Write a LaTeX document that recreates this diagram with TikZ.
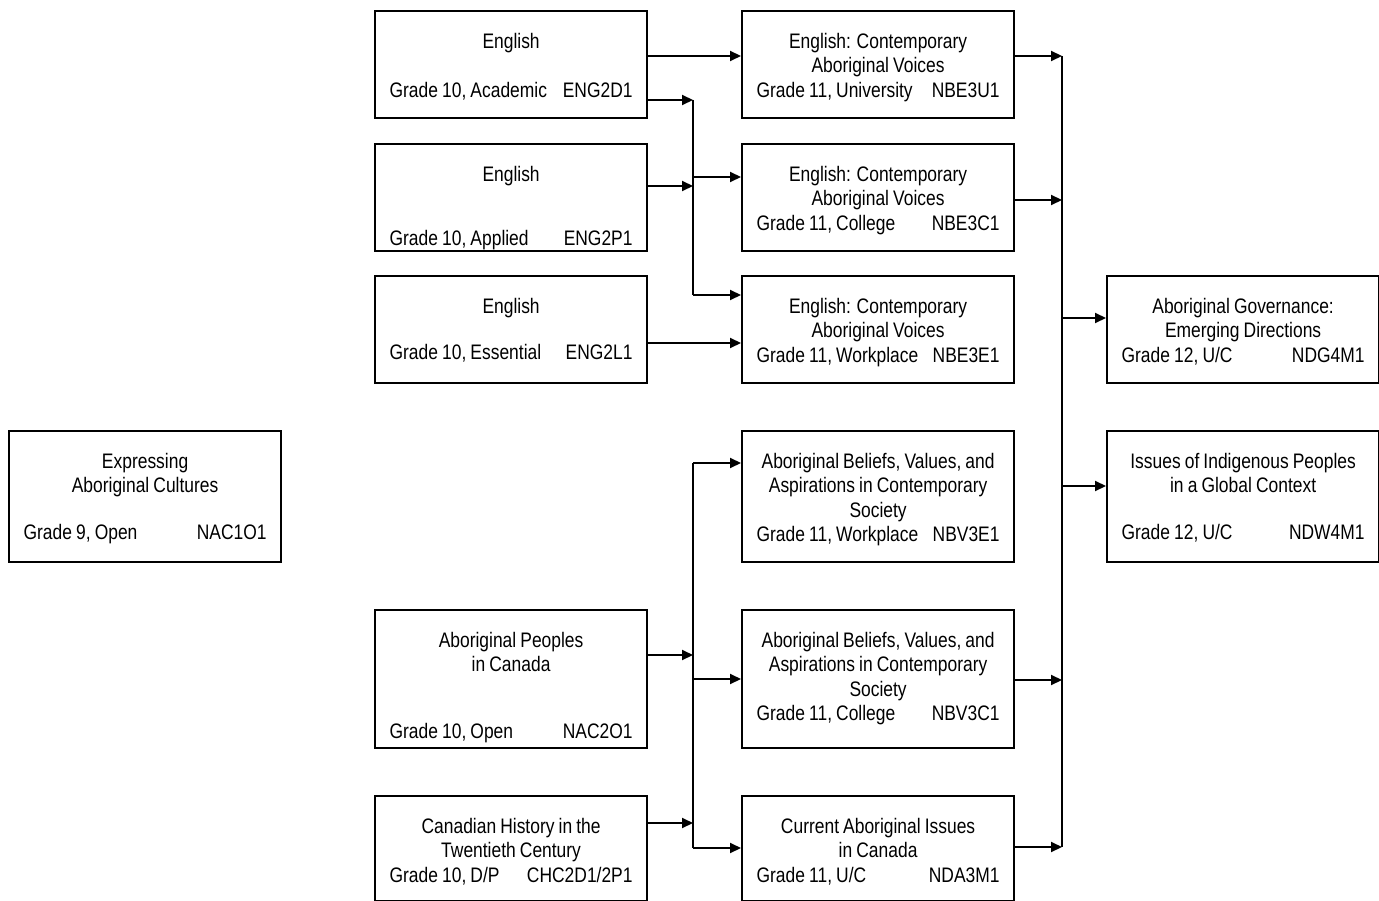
\documentclass[tikz,border=0pt]{standalone}
\usepackage{fontspec}
\setmainfont{Liberation Sans}[FakeStretch=0.83, WordSpace=0.85]
\usetikzlibrary{arrows.meta}

\begin{document}
\begin{tikzpicture}[x=1pt, y=-1pt,
    crs/.style={draw, line width=2.2pt, anchor=north west, minimum width=272pt,
      inner sep=0pt, text width=243pt, align=flush center, text height=37pt,
      font=\fontsize{21}{24.5}\selectfont},
    arr/.style={line width=2pt, -{Triangle[length=11pt, width=10pt]}},
    bus/.style={line width=2pt}]
\useasboundingbox (0,0) rectangle (1379,901);
% grade 9
\node[crs, text depth=94pt] (nac1o1) at (8,430)
  {Expressing\\Aboriginal Cultures\\[22pt]Grade 9, Open\hfill NAC1O1};
% grade 10
\node[crs, text depth=70pt] (eng2d1) at (374,10)
  {English\\[24.5pt]Grade 10, Academic\hfill ENG2D1};
\node[crs, text depth=70pt] (eng2p1) at (374,143)
  {English\\[39.5pt]Grade 10, Applied\hfill ENG2P1};
\node[crs, text depth=70pt] (eng2l1) at (374,275)
  {English\\[22pt]Grade 10, Essential\hfill ENG2L1};
\node[crs, text depth=101pt] (nac2o1) at (374,609)
  {Aboriginal Peoples\\in Canada\\[42pt]Grade 10, Open\hfill NAC2O1};
\node[crs, text depth=68pt] (chc2d1) at (374,795)
  {Canadian History in the\\Twentieth Century\\Grade 10, D/P\hfill CHC2D1/2P1};
% grade 11
\node[crs, text depth=70pt] (nbe3u1) at (741,10)
  {English: Contemporary\\Aboriginal Voices\\Grade 11, University\hfill NBE3U1};
\node[crs, text depth=70pt] (nbe3c1) at (741,143)
  {English: Contemporary\\Aboriginal Voices\\Grade 11, College\hfill NBE3C1};
\node[crs, text depth=70pt] (nbe3e1) at (741,275)
  {English: Contemporary\\Aboriginal Voices\\Grade 11, Workplace\hfill NBE3E1};
\node[crs, text depth=94pt] (nbv3e1) at (741,430)
  {Aboriginal Beliefs, Values, and\\Aspirations in Contemporary\\Society\\Grade 11, Workplace\hfill NBV3E1};
\node[crs, text depth=101pt] (nbv3c1) at (741,609)
  {Aboriginal Beliefs, Values, and\\Aspirations in Contemporary\\Society\\Grade 11, College\hfill NBV3C1};
\node[crs, text depth=68pt] (nda3m1) at (741,795)
  {Current Aboriginal Issues\\in Canada\\Grade 11, U/C\hfill NDA3M1};
% grade 12
\node[crs, text depth=70pt] (ndg4m1) at (1106,275)
  {Aboriginal Governance:\\Emerging Directions\\Grade 12, U/C\hfill NDG4M1};
\node[crs, text depth=94pt] (ndw4m1) at (1106,430)
  {Issues of Indigenous Peoples\\in a Global Context\\[22pt]Grade 12, U/C\hfill NDW4M1};
% buses
\coordinate (b1top) at (693,100);
\coordinate (b1bot) at (693,295);
\coordinate (b2top) at (693,463);
\coordinate (b2bot) at (693,848);
\coordinate (b3top) at (1062,56);
\coordinate (b3bot) at (1062,847);
\draw[bus] (b1top) -- (b1bot);
\draw[bus] (b2top) -- (b2bot);
\draw[bus] (b3top) -- (b3bot);
% english links
\draw[arr] (eng2d1.east |- 0,56) -- (nbe3u1.west |- 0,56);
\draw[arr] (eng2d1.east |- 0,100) -- (b1top);
\draw[arr] (eng2p1.east |- 0,186) -- (b1top |- 0,186);
\draw[arr] (b1top |- 0,177) -- (nbe3c1.west |- 0,177);
\draw[arr] (b1bot) -- (nbe3e1.west |- b1bot);
\draw[arr] (eng2l1.east |- 0,343) -- (nbe3e1.west |- 0,343);
% native studies links
\draw[arr] (b2top) -- (nbv3e1.west |- b2top);
\draw[arr] (nac2o1.east |- 0,655) -- (b2top |- 0,655);
\draw[arr] (b2top |- 0,679) -- (nbv3c1.west |- 0,679);
\draw[arr] (chc2d1.east |- 0,823) -- (b2top |- 0,823);
\draw[arr] (b2bot) -- (nda3m1.west |- b2bot);
% to grade 12
\draw[arr] (nbe3u1.east |- b3top) -- (b3top);
\draw[arr] (nbe3c1.east |- 0,200) -- (b3top |- 0,200);
\draw[arr] (b3top |- 0,318) -- (ndg4m1.west |- 0,318);
\draw[arr] (b3top |- 0,486) -- (ndw4m1.west |- 0,486);
\draw[arr] (nbv3c1.east |- 0,680) -- (b3top |- 0,680);
\draw[arr] (nda3m1.east |- b3bot) -- (b3bot);
\end{tikzpicture}
\end{document}
